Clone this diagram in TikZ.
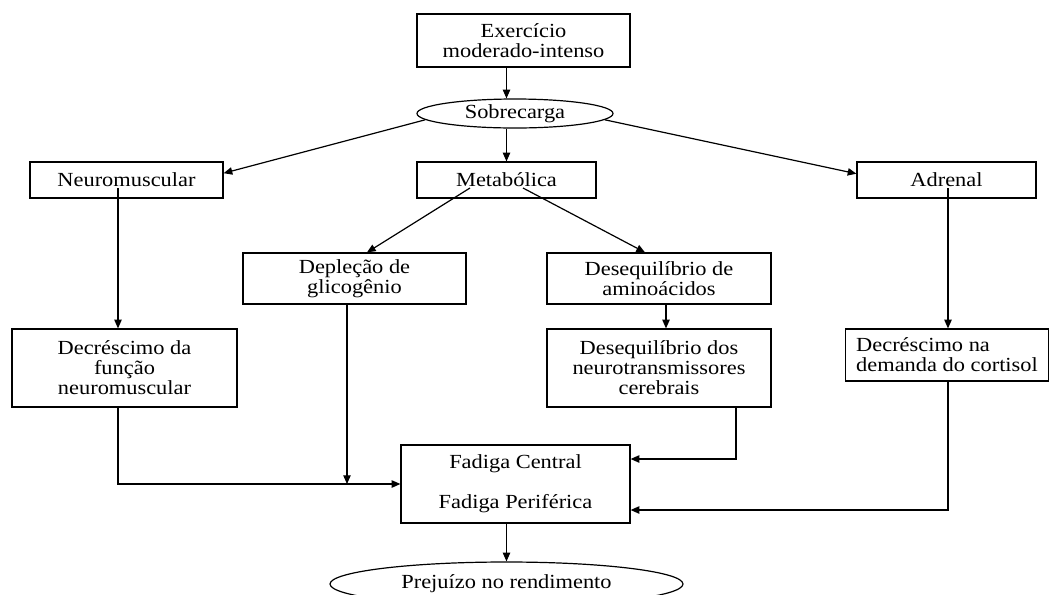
\documentclass[tikz,border=0pt]{standalone}
\usepackage{fontspec}
\setmainfont[FakeStretch=1.12]{Liberation Serif}
\usetikzlibrary{arrows.meta,%
                shapes,calc}

\begin{document}
\begin{tikzpicture}[x=0.75pt,y=-0.75pt,font=\fontsize{15}{15}\selectfont,
  box/.style={draw,line width=0.9pt,align=center,inner sep=0pt},
  oval/.style={draw,ellipse,line width=0.9pt,inner sep=0pt},
  arr/.style={line width=0.9pt,-{Triangle[length=6.5pt,width=5.5pt]}}]
\clip (0,0) rectangle (1058,594);
\node[box,minimum width=159.75pt,minimum height=39.75pt] (exer) at (523.5,40.5) {Exercício\\moderado-intenso};
\node[oval,minimum width=147pt,minimum height=21.75pt] (sobre) at (515,113.5) {Sobrecarga};
\node[box,minimum width=144.75pt,minimum height=27pt] (neuro) at (126.5,180) {Neuromuscular};
\node[box,minimum width=134.25pt,minimum height=27pt] (meta) at (506.5,180) {Metabólica};
\node[box,minimum width=134.25pt,minimum height=27pt] (adren) at (946.5,180) {Adrenal};
\node[box,minimum width=167.25pt,minimum height=38.25pt] (deple) at (354.5,278.5) {Depleção de\\glicogênio};
\node[box,minimum width=168pt,minimum height=38.25pt] (amino) at (659,278.5) {Desequilíbrio de\\aminoácidos};
\node[box,minimum width=168.75pt,minimum height=58.5pt] (decfun) at (124.5,368) {Decréscimo da\\função\\neuromuscular};
\node[box,minimum width=168pt,minimum height=58.5pt] (neurot) at (659,368) {Desequilíbrio dos\\neurotransmissores\\cerebrais};
\node[box,align=left,minimum width=152pt,minimum height=39pt] (cortis) at (947,355) {Decréscimo na\\demanda do cortisol};
\node[box,minimum width=171.75pt,minimum height=58.5pt] (fadiga) at (515.5,484) {Fadiga Central\\[15pt]Fadiga Periférica};
\node[oval,minimum width=264.75pt,minimum height=33pt] (prej) at (506.5,584) {Prejuízo no rendimento};

\draw[arr] (exer.south -| meta.north) -- (meta.north |- sobre.north);
\draw[arr] (sobre.south -| meta.north) -- (meta.north);
\draw[arr] (sobre.184) -- (neuro.4);
\draw[arr] (sobre.356) -- (adren.176);
\draw[arr] ($(meta.center)+(-36.5,8)$) -- ($(deple.north)+(12.5,0)$);
\draw[arr] ($(meta.center)+(16.5,8)$) -- ($(amino.north)+(-14,0)$);
\draw[arr] ($(neuro.center)+(-8.5,8)$) coordinate (n1) -- (n1 |- decfun.north);
\draw[arr] ($(adren.center)+(1.5,8)$) coordinate (a1) -- (a1 |- cortis.north);
\draw[arr] ($(amino.south)+(7,0)$) -- ($(neurot.north)+(7,0)$);
\draw[arr] ($(deple.south)+(-7.5,0)$) coordinate (d1) -- (d1 |- fadiga.west);
\draw[arr] (decfun.south -| n1) |- (fadiga.west);
\draw[arr] ($(neurot.south)+(77,0)$) |- ($(fadiga.east)+(0,-25)$);
\draw[arr] (cortis.south -| a1) |- ($(fadiga.east)+(0,26)$);
\draw[arr] (fadiga.south -| prej.north) -- (prej.north);
\end{tikzpicture}
\end{document}
